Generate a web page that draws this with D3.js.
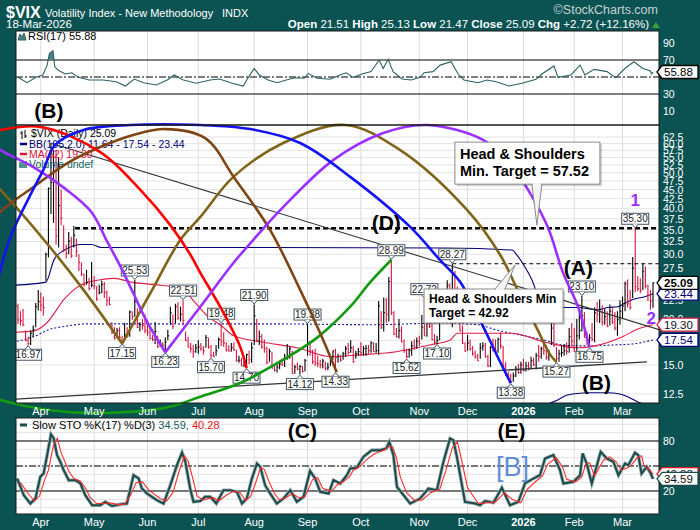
<!DOCTYPE html>
<html>
<head>
<meta charset="utf-8">
<script src="https://cdn.jsdelivr.net/npm/d3@7"></script>
<style>
  body { margin: 0; background: #0b5353; }
  svg text { font-family: "Liberation Sans", Arial, sans-serif; }
</style>
</head>
<body>
<div id="chart"></div>
<script>
// daily bars 18-Mar-2025 .. 18-Mar-2026 : [high, low, close]
const vixBars = [
  // Mar 2025
  [22.5,20.5,21.7],[22.0,19.4,19.9],[21.0,19.2,19.8],[21.3,19.1,19.3],[18.6,17.4,17.5],[17.9,16.97,17.15],[18.6,17.0,18.3],[19.2,17.9,18.7],[22.1,19.0,21.6],[24.0,21.1,22.3],
  // Apr
  [23.6,21.0,21.8],[23.0,20.4,21.5],[30.3,25.4,30.0],[45.6,29.4,45.3],[60.1,38.6,47.0],[57.5,36.5,52.3],[57.5,31.9,33.6],[54.9,31.3,40.7],[45.0,36.0,37.6],[36.0,30.4,30.9],[31.9,29.2,30.1],
  [34.5,30.0,32.6],[33.5,29.3,29.7],[35.8,31.3,33.8],[33.1,29.5,30.6],[30.0,27.0,28.5],[28.5,26.2,26.5],[26.6,24.5,24.8],[27.2,24.8,25.2],[25.9,23.9,24.2],[28.6,24.4,24.7],
  // May
  [26.2,24.1,24.6],[24.6,22.4,22.7],[24.8,23.3,23.6],[25.4,23.5,24.8],[25.2,22.8,23.6],[23.9,21.7,22.5],[23.0,21.8,21.9],[19.6,18.2,18.4],[19.0,17.6,17.7],[18.9,17.8,18.6],[19.0,17.4,17.8],
  [18.0,17.15,17.2],[19.5,17.5,18.1],[19.0,17.8,18.0],[21.1,17.9,20.9],[21.0,19.9,20.3],[25.53,20.3,22.3],[21.4,18.9,19.0],[19.6,18.5,19.3],[20.0,18.7,19.2],[20.6,18.3,18.6],
  // Jun
  [19.9,18.0,18.4],[19.0,17.6,17.7],[18.1,17.4,17.6],[19.6,17.1,18.5],[18.0,16.7,16.8],[17.6,16.8,17.2],[17.3,16.6,16.95],[17.8,16.23,17.3],[18.7,17.5,18.0],[21.6,19.3,20.8],
  [20.6,18.8,19.1],[22.0,19.5,21.6],[22.2,19.9,20.1],[21.6,19.7,20.6],[22.51,19.2,19.8],[18.5,17.4,17.5],[17.9,16.7,16.8],[17.2,16.2,16.6],[17.0,15.7,16.3],[17.1,16.2,16.7],
  // Jul
  [17.5,16.1,16.8],[17.2,16.4,16.6],[16.9,16.0,16.4],[18.1,16.7,17.8],[17.8,16.6,16.8],[17.0,15.70,15.9],[16.3,15.8,15.8],[17.0,15.9,16.4],[17.8,16.6,17.6],[19.48,16.9,17.4],[18.4,16.8,17.2],
  [17.3,16.3,16.5],[17.0,16.3,16.4],[17.2,16.3,16.7],[17.3,16.4,16.5],[16.5,15.3,15.4],[15.9,15.2,15.45],[15.7,14.9,14.9],[15.4,14.8,15.0],[16.1,14.70,16.0],[16.4,15.1,15.5],[17.3,15.2,16.7],
  // Aug
  [21.90,17.0,20.4],[20.0,17.3,17.5],[18.6,17.0,17.9],[18.2,16.6,16.8],[17.6,16.2,16.6],[16.8,15.1,15.2],[16.6,15.3,16.3],[16.3,14.7,14.7],[15.0,14.4,14.5],[15.3,14.3,14.8],[15.4,14.6,15.1],
  [15.6,14.9,15.0],[16.1,14.8,15.6],[17.1,15.5,15.7],[16.8,15.6,16.6],[16.4,14.2,14.2],[15.0,14.2,14.8],[15.2,14.5,14.6],[15.0,14.12,14.85],[14.9,14.3,14.4],[15.6,14.4,15.4],
  // Sep
  [19.38,15.9,17.2],[17.4,15.9,16.4],[16.5,15.1,15.3],[16.6,14.9,15.2],[15.9,14.8,15.1],[15.5,14.7,15.0],[15.6,14.7,15.35],[15.3,14.5,14.7],[15.2,14.5,14.8],[15.8,14.9,15.7],[16.4,15.5,16.4],
  [16.6,14.33,15.7],[16.1,15.2,15.8],[16.0,15.3,15.45],[16.3,15.5,16.1],[16.9,15.8,16.6],[17.2,16.0,16.2],[17.5,16.2,16.7],[16.9,15.2,15.3],[16.4,15.6,16.1],[16.7,15.9,16.3],
  // Oct
  [17.3,15.9,16.2],[16.9,15.9,16.6],[17.0,15.9,16.65],[17.0,16.1,16.4],[17.4,16.2,17.2],[17.3,16.3,16.3],[17.2,16.2,16.4],[22.4,16.0,21.7],[21.0,18.8,19.0],[22.9,18.5,20.8],[22.8,19.5,20.6],[26.0,19.7,25.3],
  [28.99,20.5,20.8],[21.0,18.1,18.2],[18.9,17.8,17.9],[20.0,17.7,18.6],[19.1,17.3,17.3],[17.6,16.2,16.4],[16.6,15.62,15.8],[16.6,15.7,16.4],[17.4,15.9,16.9],[17.6,16.5,16.8],[17.8,16.6,17.4],
  // Nov
  [18.0,16.9,17.2],[20.5,17.6,19.0],[22.72,18.0,18.0],[20.3,17.9,19.5],[22.1,18.9,19.1],[19.5,17.5,17.6],[18.2,17.1,17.3],[18.0,17.10,17.5],[21.3,17.5,20.0],[23.0,19.5,19.8],
  [23.8,20.0,22.4],[25.5,21.5,24.7],[25.0,22.4,23.7],[28.27,19.0,26.4],[27.0,23.0,23.4],[24.5,20.3,20.5],[21.0,18.5,18.6],[19.2,17.1,17.2],[17.3,16.3,16.35],
  // Dec
  [18.1,16.4,17.2],[17.6,16.4,16.6],[16.9,15.9,16.1],[16.4,15.6,15.8],[16.1,15.4,15.4],[17.2,15.6,16.7],[17.3,16.4,16.9],[17.2,15.7,15.8],[16.0,14.8,14.9],[16.9,14.8,16.7],[17.7,16.3,16.5],
  [17.6,16.3,16.4],[17.8,16.2,17.6],[18.4,16.6,16.9],[16.9,14.9,14.9],[15.3,14.0,14.1],[14.4,13.9,14.0],[14.2,13.38,13.5],[14.3,13.5,14.0],[14.9,13.9,14.6],[15.1,14.2,14.3],[15.3,14.2,15.0],
  // Jan 2026
  [15.6,14.4,14.5],[15.3,14.4,14.9],[15.3,14.5,14.7],[15.8,14.6,15.4],[15.7,14.9,15.0],[16.2,14.6,15.9],[17.0,15.3,15.8],[16.8,15.6,16.6],[17.5,16.0,16.4],[17.0,15.5,15.7],
  [16.5,15.4,15.9],[20.9,17.0,18.9],[20.9,16.8,16.9],[16.8,15.27,15.6],[16.5,15.3,16.1],[17.0,15.8,16.2],[17.1,15.9,16.4],[17.3,16.0,16.3],[18.9,16.2,17.9],[19.5,16.9,17.4],
  // Feb
  [18.9,16.3,16.3],[20.0,16.4,18.0],[20.9,17.6,18.6],[23.10,18.5,20.4],[20.9,17.8,17.8],[18.5,17.0,17.4],[18.2,16.75,17.8],[19.5,17.4,17.6],[21.5,17.3,20.8],[22.3,19.6,20.6],
  [22.6,19.5,21.2],[21.8,19.2,19.6],[21.3,19.3,20.3],[21.0,19.0,19.1],[21.9,19.2,21.0],[21.4,19.4,19.6],[20.9,18.6,18.9],[21.0,18.0,19.9],[22.5,19.3,21.0],
  // Mar 2026
  [23.0,20.0,21.7],[25.3,21.0,24.9],[25.6,21.5,22.0],[24.0,21.2,21.5],[29.5,22.8,27.5],[35.30,23.7,24.5],[26.2,23.8,24.2],[25.8,23.5,23.9],[28.3,24.0,27.0],[27.8,24.2,24.6],
  [24.8,22.4,23.2],[24.0,21.2,22.37],[25.13,21.47,25.09]
];

// first bar of each month (bar index)
const monthTicks = [
  {i:10,l:'Apr'},{i:31,l:'May'},{i:52,l:'Jun'},{i:72,l:'Jul'},{i:94,l:'Aug'},{i:115,l:'Sep'},
  {i:136,l:'Oct'},{i:159,l:'Nov'},{i:178,l:'Dec'},{i:200,l:'2026',b:true},{i:220,l:'Feb'},{i:239,l:'Mar'}
];
const mainTicks = [12.5,15,17.5,20,22.5,25,27.5,30,32.5,35,37.5,40,42.5,45,47.5,50,52.5,55,57.5,60,62.5];
const rsiTicks = [10,30,50,70,90];
const stoTicks = [20,50,80];

// overlays: [bar index, value]
const bbUpper = [[-1,24.7],[12,25.2],[15.3,29.1],[19.3,30.8],[26,31.9],[30,31.9],[33.8,31.3],[100,31.3],[169,31.2],[195.5,30.8],
  [197.5,29.8],[200.6,27.7],[203.4,25.5],[205.7,23.2],[208.5,22.3],[212.4,21.7],[216.4,21.5],[221.5,21.5],[229.3,21.2],
  [233.3,21.5],[237.2,21.6],[240,22.1],[243.9,22.7],[247.8,23.0],[251,23.44]];
const bbMiddle = [[-1,17.3],[8,18.0],[13,18.7],[19.5,19.1],[28,19.4],[60,19.4],[100,19.4],[140,19.3],[169,19.5],[182,19.3],
  [189,18.7],[202,17.9],[208.5,17.5],[215,17.0],[221.5,16.9],[228,16.9],[235,17.0],[242.7,17.1],[251,17.54]];
const bbLower = [[209,11.7],[213,12.0],[217,12.4],[221,12.55],[226,12.6],[233,12.6],[238,12.5],[242,12.2],[245,11.9],[248,11.7],[251,11.64]];
const ma52 = [[-1,18.4],[7.5,18.6],[12.6,19.6],[19.3,22.7],[26,24.8],[33.8,25.6],[39,25.8],[45.6,25.2],[54.7,24.8],[65.3,24.3],
  [70.4,22.3],[75.5,20.4],[81,19.2],[86,18.0],[97.6,17.3],[111,16.7],[124,15.8],[137,16.0],[150,16.3],[163,17.0],[171,17.5],
  [174,18.3],[195.5,18.3],[208.5,17.3],[221.5,16.7],[228,16.9],[239,17.9],[245,18.8],[251,19.30]];

const rsi17 = [[1,49.6],[4.6,43.3],[8.1,49.6],[10.8,52.4],[12.5,64],[13.4,78],[14.8,81],[15.5,62],[16.9,58],[19.6,53.5],[22.2,55],
  [24.8,49.6],[29.1,46.5],[34.6,46.5],[39.7,44.5],[43.3,39.4],[46.8,47.6],[50.4,43.3],[55.5,40.6],[59.8,46.5],[62.5,52.4],
  [66.1,46.5],[71.2,42.6],[76.7,46.5],[80.3,47.6],[85.4,42.6],[89.7,39.4],[91.7,49.6],[94,60],[96,52.4],[99.5,46.5],[103,43.3],
  [106.6,46.5],[110,49.2],[113.7,48.5],[115.3,54.3],[118.8,48.5],[123.9,47.3],[127.5,52],[130.2,55],[133,49.6],[136.5,53.5],
  [140,56.3],[143.2,70],[144.8,60],[146.7,70.8],[148.7,56.3],[152.2,47.6],[155.8,46.5],[159.3,49.6],[160.9,55],[164.4,56.3],
  [167.2,64],[171.5,68],[174.3,53.5],[176.6,46.5],[182.1,43.3],[185.7,46.5],[189.2,44.5],[194.3,39.4],[199.4,42.6],[205,47.3],
  [207.3,53.5],[212,63],[213.6,49.6],[218.7,52.4],[222.3,64],[224.2,52.4],[227.8,59],[232.9,56.3],[236.3,49.2],[239.9,60],
  [243.5,68],[247,60],[249.8,57.4],[250.5,53.5],[251,55.88]];

const stoK = [[0.7,35],[3.3,15],[5.9,5],[7.9,11],[9.8,37],[11.1,41],[12.5,63],[14,88],[15.1,83],[16.4,63],[17.7,55],[19,45],
  [21,33],[23.6,33],[25.6,29],[27.5,15],[30.2,3],[33.4,3],[35.4,7],[38,2],[41.3,4],[43.9,5],[46.5,39],[48.5,35],[49.8,23],
  [51.8,17],[55.7,9],[58.3,5],[61,27],[63.6,51],[65.6,66],[66.9,55],[68.8,23],[70.1,7],[72.8,8],[74.7,13],[76.7,13],[79.1,5],
  [81.9,21],[84.6,21],[87.2,19],[89.2,5],[91.1,11],[93.1,35],[95.1,53],[96.4,49],[98.3,27],[100.3,17],[102.9,5],[105.5,11],
  [108.2,21],[110.8,7],[113.4,13],[116,44],[118,35],[120,19],[123.3,17],[125.2,33],[127.9,29],[130.5,39],[131.8,47],[134.4,48],
  [137,61],[140.3,69],[143.6,69],[146,71],[147.2,79],[148.8,63],[150.2,25],[152.8,15],[155.4,5],[159.3,11],[162.6,23],[165.9,21],
  [168.5,55],[171.1,83],[172.4,81],[173.8,61],[177,7],[181,5],[182.9,3],[184.9,8],[188.2,6],[191.5,24],[194.7,3],[198,7],
  [200.6,29],[203.9,35],[206.5,39],[208.5,59],[211.8,63],[214.4,45],[215.7,29],[219.6,31],[222.3,39],[223.3,65],[224.9,53],
  [226.9,29],[230.4,67],[232.8,59],[235.4,55],[237.4,39],[240,53],[241.3,51],[243.9,66],[245.2,63],[246.5,41],[248.5,49],
  [249.8,43],[251,34.59]];
const stoD = [[2,30],[5,17],[7.5,8],[9.5,14],[11.5,33],[13,45],[15,75],[16.5,83],[18,66],[19.5,55],[21,44],[23,35],[25.5,32],
  [27.5,24],[29.5,12],[32,5],[35,5],[37,6],[40,4],[43,4],[45.5,16],[47.5,30],[50,31],[52.5,21],[57,11],[59.5,8],[62,18],
  [64.5,44],[66.5,62],[68,56],[70,33],[71.5,14],[74,9],[76,11],[78,12],[80,8],[83,15],[86,20],[88.5,18],[90.5,9],[92.5,13],
  [94.5,29],[96.5,48],[98,46],[100,30],[102,17],[104,9],[106.5,12],[109,17],[111.5,12],[114,13],[117,34],[119,36],[121,23],
  [124.5,20],[126.5,27],[129,31],[131.5,37],[133,45],[135.5,49],[138,57],[141.5,65],[145,69],[147,73],[148.5,73],[150,60],
  [151.5,37],[154,18],[157,9],[160,9],[163.5,18],[167,22],[169.5,45],[172,72],[174,79],[175,66],[178,24],[182,6],[184,5],
  [186,6],[189,7],[192.5,18],[195.5,10],[199,6],[201.5,22],[205,32],[207.5,38],[209.5,52],[213,60],[215.5,48],[217,34],
  [220.5,31],[223,37],[224.5,52],[226,54],[228,38],[231.5,57],[234,61],[236.5,55],[238.5,45],[241,48],[242.5,51],[245,61],
  [246.5,62],[247.5,50],[249.5,46],[251,40.28]];

// swing high / low tags (bar index, H or L)
const swingLabels = [{i:5,t:'L'},{i:42,t:'L'},{i:47,t:'H'},{i:59,t:'L'},{i:66,t:'H'},{i:77,t:'L'},{i:81,t:'H'},{i:91,t:'L'},
  {i:94,t:'H'},{i:112,t:'L'},{i:115,t:'H'},{i:126,t:'L'},{i:148,t:'H'},{i:154,t:'L'},{i:161,t:'H'},{i:166,t:'L'},{i:172,t:'H'},
  {i:195,t:'L'},{i:213,t:'L'},{i:223,t:'H'},{i:226,t:'L'},{i:244,t:'H'}];

// cycle arcs drawn on the chart: [bar index, price]
const arcRed = [[-13.8,63.3],[-5.9,65.3],[9.8,66.6],[33.4,56.9],[49.2,44.9],[61,36.0],[68.9,29.9],[72.8,26.7],[80.6,21.6],[88.5,16.8],[91,14.7]];
const arcBrown = [[-13.8,32.8],[-5.9,39.1],[7.1,45.7],[20.5,53.1],[33.4,58.7],[46.4,63.3],[59,65.7],[74.7,62.1],[86.2,48.4],[100.3,34.9],[112.1,24.0],[120,18.3],[126.5,14.33]];
const arcOliveA = [[-13.8,50.9],[-5.9,44.9],[12.6,32.0],[26.8,24.0],[42,17.15]];
const arcOliveB = [[42,17.15],[53.1,23.5],[64.9,32.8],[72.8,37.9],[85.8,48.7],[105.4,60.2],[129.8,67.4],[151.5,57.6],[177.8,39.6],[190.8,29.9],[198.7,23.2],[205.4,18.8],[210.5,16.0],[213,15.27]];
const arcPurpleA = [[-13.8,63.3],[-5.9,57.6],[7.1,51.8],[19.3,45.4],[29.9,39.1],[36.2,32.4],[41.7,27.5],[46.8,23.2],[51.9,19.6],[59,16.23]];
const arcPurpleB = [[59,16.23],[72.8,21.6],[85.8,28.4],[93.6,32.8],[105.4,40.3],[125.1,54.1],[144.8,64.1],[162.1,67.4],[184.1,61.4],[194.7,53.1],[202.6,44.0],[209.7,35.4],[215.6,26.7],[221.5,21.6],[226,16.75]];
const arcBlue = [[-9.8,21.2],[-5.9,27.2],[-2,33.4],[5.9,43.5],[11,50.9],[15.7,59.5],[26.8,65.3],[45.2,67.4],[72.8,67.4],[92.4,65.7],[112.1,60.2],[131.8,48.7],[155.4,35.6],[167.2,28.9],[175.1,25.2],[184.1,19.1],[190.8,15.3],[195,13.38]];
const arcGreen = [[-13.8,12.6],[-5.9,12.04],[13.8,11.3],[33.4,11.1],[59.8,11.5],[72.8,12.3],[88.5,13.4],[105.4,15.5],[118.8,17.8],[131.8,21.6],[139.7,25.2],[148,28.99]];

const trendDown = [[14,60.13],[253.5,18.7]];
const trendUp = [[-6,12.04],[248.6,15.3]];
const levelD = [[23.5,35.30],[254,35.30]];
const levelA = [[172,28.27],[254,28.27]];

// last values shown in the right-hand tags
const mainTags = [
  {v:17.54, s:'#00007a', c:'#00007a'}, {v:19.30, s:'#e0204a', c:'#111'},
  {v:23.44, s:'#00007a', c:'#00007a'}, {v:25.09, s:'#000', c:'#000', b:true}
];

// ---------------------------------------------------------------
const W = 700, H = 530;
const panelL = 16, panelR = 659;
const rsiBox = {top: 31, bottom: 125};
const mainBox = {top: 125, bottom: 403};
const stoBox = {top: 418, bottom: 514};

const svg = d3.select('#chart').append('svg').attr('width', W).attr('height', H);
svg.append('rect').attr('width', W).attr('height', H).attr('fill', '#0b5353');
const defs = svg.append('defs');

const x = d3.scaleLinear().domain([0, vixBars.length - 1]).range([15.4, 653]);
const y = d3.scaleLog().domain([11.82, 67.4]).range([mainBox.bottom, mainBox.top]);
const yRsi = d3.scaleLinear().domain([0, 100]).range([119.5, 34.5]);
const ySto = d3.scaleLinear().domain([0, 100]).range([507.7, 424.3]);

function addPanel(id, box) {
  defs.append('clipPath').attr('id', id).append('rect')
    .attr('x', panelL).attr('y', box.top).attr('width', panelR - panelL).attr('height', box.bottom - box.top);
  svg.append('rect').attr('x', panelL).attr('y', box.top)
    .attr('width', panelR - panelL).attr('height', box.bottom - box.top).attr('fill', '#fff');
  const g = svg.append('g').attr('clip-path', `url(#${id})`);
  g.selectAll('line.vgrid').data(monthTicks).join('line')
    .attr('class', 'vgrid')
    .attr('x1', d => x(d.i)).attr('x2', d => x(d.i))
    .attr('y1', box.top).attr('y2', box.bottom)
    .attr('stroke', '#dcdcdc');
  return g;
}

const gRsi = addPanel('clip-rsi', rsiBox);
const gMain = addPanel('clip-main', mainBox);
const gSto = addPanel('clip-sto', stoBox);

// ---- RSI panel
gRsi.selectAll('line.lvl').data([30, 50, 70]).join('line')
  .attr('x1', panelL).attr('x2', panelR).attr('y1', d => yRsi(d)).attr('y2', d => yRsi(d))
  .attr('stroke', '#000').attr('stroke-width', 1.2)
  .attr('stroke-dasharray', d => d === 50 ? '7,2,2,2' : null);

defs.append('clipPath').attr('id', 'clip-ob').append('rect')
  .attr('x', panelL).attr('y', rsiBox.top).attr('width', panelR - panelL).attr('height', yRsi(70) - rsiBox.top);
gRsi.append('path').datum(rsi17)
  .attr('clip-path', 'url(#clip-ob)')
  .attr('d', d3.area().x(d => x(d[0])).y0(yRsi(70)).y1(d => yRsi(d[1])))
  .attr('fill', '#4e7e7e');
gRsi.append('path').datum(rsi17)
  .attr('d', d3.line().x(d => x(d[0])).y(d => yRsi(d[1])))
  .attr('fill', 'none').attr('stroke', '#2d6262').attr('stroke-width', 1.1);

svg.append('path').attr('d', 'M18,40 L20,34 L22,37 L24,33 L26,40 Z').attr('fill', '#4e7e7e').attr('stroke', '#2d6262');
svg.append('text').attr('x', 28).attr('y', 40).attr('font-size', 11).text('RSI(17) 55.88');

// ---- Main panel
gMain.selectAll('line.hgrid').data(mainTicks).join('line')
  .attr('class', 'hgrid')
  .attr('x1', panelL).attr('x2', panelR).attr('y1', d => y(d)).attr('y2', d => y(d))
  .attr('stroke', '#e3e3e3');

const band = d3.line().x(d => x(d[0])).y(d => y(d[1])).curve(d3.curveMonotoneX);
gMain.append('path').datum(bbUpper).attr('d', band).attr('fill', 'none').attr('stroke', '#00007a').attr('stroke-width', 1.1);
gMain.append('path').datum(bbLower).attr('d', band).attr('fill', 'none').attr('stroke', '#00007a').attr('stroke-width', 1.1);
gMain.append('path').datum(bbMiddle).attr('d', band).attr('fill', 'none').attr('stroke', '#1a1aa0')
  .attr('stroke-width', 1.1).attr('stroke-dasharray', '2,2');
gMain.append('path').datum(ma52).attr('d', band).attr('fill', 'none').attr('stroke', '#e0204a').attr('stroke-width', 1.1);

const barColor = (d, i) => (i > 0 && d[2] >= vixBars[i - 1][2]) ? '#000' : '#d9133d';
gMain.selectAll('line.bar').data(vixBars).join('line')
  .attr('class', 'bar')
  .attr('x1', (d, i) => x(i)).attr('x2', (d, i) => x(i))
  .attr('y1', d => y(d[0])).attr('y2', d => y(d[1]))
  .attr('stroke', barColor).attr('stroke-width', 1.1);
gMain.selectAll('line.cls').data(vixBars).join('line')
  .attr('class', 'cls')
  .attr('x1', (d, i) => x(i)).attr('x2', (d, i) => x(i) + 1.4)
  .attr('y1', d => y(d[2])).attr('y2', d => y(d[2]))
  .attr('stroke', barColor).attr('stroke-width', 1);

const seg = d3.line().x(d => x(d[0])).y(d => y(d[1]));
gMain.append('path').datum(levelD).attr('d', seg).attr('stroke', '#000').attr('stroke-width', 2.4).attr('stroke-dasharray', '5,3');
gMain.append('path').datum(levelA).attr('d', seg).attr('stroke', '#000').attr('stroke-width', 1).attr('stroke-dasharray', '4,3');
gMain.append('path').datum(trendDown).attr('d', seg).attr('stroke', '#333').attr('stroke-width', 1.1);
gMain.append('path').datum(trendUp).attr('d', seg).attr('stroke', '#333').attr('stroke-width', 1.3);

// swing tags
const swing = gMain.selectAll('g.swing').data(swingLabels).join('g').attr('class', 'swing');
swing.each(function (d) {
  const g = d3.select(this);
  const v = d.t === 'H' ? vixBars[d.i][0] : vixBars[d.i][1];
  const cx = x(d.i), py = y(v), w = 27, h = 11;
  const by = d.t === 'H' ? py - 4 - h : py + 4;
  g.append('rect').attr('x', cx - w / 2).attr('y', by).attr('width', w).attr('height', h)
    .attr('fill', '#fff').attr('stroke', '#445566');
  const tip = d.t === 'H'
    ? `M${cx - 3},${by + h} L${cx},${by + h + 3.5} L${cx + 3},${by + h}`
    : `M${cx - 3},${by} L${cx},${by - 3.5} L${cx + 3},${by}`;
  g.append('path').attr('d', tip).attr('fill', '#fff').attr('stroke', '#445566');
  g.append('text').attr('x', cx).attr('y', by + h - 2).attr('text-anchor', 'middle')
    .attr('font-size', 10).attr('fill', '#222').text(v.toFixed(2));
});

// legend
const leg = svg.append('g');
leg.append('path').attr('d', 'M22,131 V139 M20,133 H22 M25,130 V138 M25,136 H27').attr('stroke', '#000').attr('fill', 'none');
leg.append('text').attr('x', 31).attr('y', 137).attr('font-size', 10.5).attr('fill', '#000').text('$VIX (Daily) 25.09');
leg.append('line').attr('x1', 20).attr('x2', 27).attr('y1', 144).attr('y2', 144).attr('stroke', '#00007a').attr('stroke-width', 2.5);
leg.append('text').attr('x', 29).attr('y', 148).attr('font-size', 10.5).attr('fill', '#00007a').text('BB(165,2.0) 11.64 - 17.54 - 23.44');
leg.append('line').attr('x1', 20).attr('x2', 27).attr('y1', 154).attr('y2', 154).attr('stroke', '#dd1040').attr('stroke-width', 2.5);
leg.append('text').attr('x', 29).attr('y', 158).attr('font-size', 10.5).attr('fill', '#dd1040').text('MA(52) 19.30');
leg.append('path').attr('d', 'M20,168 V162 M22,168 V160 M24,168 V163 M26,168 V161').attr('stroke', '#2d7a7a').attr('stroke-width', 1.6);
leg.append('text').attr('x', 29).attr('y', 168).attr('font-size', 10.5).attr('fill', '#106060').text('Volume undef');

// arcs (not clipped, they run past the panel)
const arcLine = d3.line().x(d => x(d[0])).y(d => y(d[1])).curve(d3.curveCatmullRom.alpha(0.5));
const arcs = [
  {p: arcGreen, c: '#139a13'}, {p: arcOliveA, c: '#806418'}, {p: arcOliveB, c: '#806418'},
  {p: arcBrown, c: '#7f4613'}, {p: arcRed, c: '#ff0000'}, {p: arcPurpleA, c: '#9b30ff'},
  {p: arcPurpleB, c: '#9b30ff'}, {p: arcBlue, c: '#1414f0'}
];
svg.selectAll('path.arc').data(arcs).join('path')
  .attr('class', 'arc')
  .attr('d', d => arcLine(d.p))
  .attr('fill', 'none').attr('stroke', d => d.c).attr('stroke-width', 2.6);

// wave labels
const bigLabel = (px, py, t, size, color, weight) => svg.append('text')
  .attr('x', px).attr('y', py).attr('text-anchor', 'middle').attr('font-size', size)
  .attr('font-weight', weight || 'bold').attr('fill', color || '#000').text(t);
bigLabel(x(13.2), yRsi(1.8), '(B)', 21);
bigLabel(x(146), y(35.3) + 2, '(D)', 21);
bigLabel(x(221.6), y(26.3), '(A)', 21);
bigLabel(x(228.7), y(12.8), '(B)', 21);
bigLabel(x(244), y(35.30) - 22, '1', 17, '#9b30ff');
bigLabel(x(250.3), y(19.30) - 1, '2', 17, '#9b30ff');
bigLabel(x(113), ySto(83.6), '(C)', 21);
bigLabel(x(195.3), ySto(83.6), '(E)', 21);
bigLabel(x(195.7), ySto(38), '[B]', 27, '#5f8cd8', 'normal');

// callouts
function callout(idx, price, box, base, lines, size, gap) {
  const ax = x(idx), ay = y(price);
  const g = svg.append('g');
  const bx = ax + box[0], by = ay + box[1], bw = box[2] - box[0], bh = box[3] - box[1];
  g.append('rect').attr('x', bx + 2).attr('y', by + 2).attr('width', bw).attr('height', bh).attr('fill', 'rgba(0,0,0,0.18)');
  const edge = box[1] < 0 ? by + bh : by;
  g.append('path').attr('d', `M${ax + base[0]},${edge} L${ax},${ay} L${ax + base[1]},${edge}`)
    .attr('fill', '#f4f4f4').attr('stroke', '#8a8a8a');
  g.append('rect').attr('x', bx).attr('y', by).attr('width', bw).attr('height', bh)
    .attr('fill', '#fff').attr('stroke', '#8a8a8a');
  g.append('path').attr('d', `M${ax + base[0] + 1},${edge} L${ax + base[1] - 1},${edge}`).attr('stroke', '#fff').attr('stroke-width', 1.5);
  lines.forEach((t, k) => g.append('text').attr('x', bx + 5).attr('y', by + gap[0] + k * gap[1])
    .attr('font-size', size).attr('font-weight', 'bold').attr('fill', '#000').text(t));
}
callout(205.3, 36.0, [-82, -83, 63, -41], [-5, 5], ['Head & Shoulders', 'Min. Target = 57.52'], 14.5, [17, 17]);
callout(196.7, 28.05, [-91, 24, 48, 58], [-20, -10], ['Head & Shoulders Min', 'Target = 42.92'], 12, [14, 14]);

// ---- Stochastic panel
gSto.selectAll('line.sg').data(d3.range(0, 101, 10)).join('line')
  .attr('x1', panelL).attr('x2', panelR).attr('y1', d => ySto(d)).attr('y2', d => ySto(d))
  .attr('stroke', '#e3e3e3');
gSto.selectAll('line.lvl').data([20, 50, 80]).join('line')
  .attr('x1', panelL).attr('x2', panelR).attr('y1', d => ySto(d)).attr('y2', d => ySto(d))
  .attr('stroke', '#000').attr('stroke-width', 1.2)
  .attr('stroke-dasharray', d => d === 50 ? '7,2,2,2' : null);
const stoLine = d3.line().x(d => x(d[0])).y(d => ySto(d[1]));
gSto.append('path').datum(stoK).attr('d', stoLine).attr('fill', 'none').attr('stroke', '#9db2b2').attr('stroke-width', 3.6);
gSto.append('path').datum(stoK).attr('d', stoLine).attr('fill', 'none').attr('stroke', '#1d4b4b').attr('stroke-width', 2);
gSto.append('path').datum(stoD).attr('d', stoLine).attr('fill', 'none').attr('stroke', '#ff2a2a').attr('stroke-width', 1.1);

svg.append('line').attr('x1', 20).attr('x2', 27).attr('y1', 425).attr('y2', 425).attr('stroke', '#1d4b4b').attr('stroke-width', 3);
const stoLeg = svg.append('text').attr('x', 32).attr('y', 429).attr('font-size', 11);
stoLeg.append('tspan').attr('fill', '#000').text('Slow STO %K(17) %D(3) ');
stoLeg.append('tspan').attr('fill', '#1d5c5c').text('34.59, ');
stoLeg.append('tspan').attr('fill', '#ee1111').text('40.28');

// ---- panel borders
[rsiBox, mainBox, stoBox].forEach(b => svg.append('rect')
  .attr('x', panelL).attr('y', b.top).attr('width', panelR - panelL).attr('height', b.bottom - b.top)
  .attr('fill', 'none').attr('stroke', '#1a1a1a'));

// ---- axes labels (skip the ones fully hidden behind a value tag)
const fmt1 = d3.format('.1f');
const hidden = v => mainTags.some(t => Math.abs(y(t.v) - y(v)) < 5);
svg.selectAll('text.ym').data(mainTicks.filter(v => !hidden(v))).join('text')
  .attr('x', 663).attr('y', d => y(d) + 4).attr('font-size', 10.5).attr('fill', '#fff').text(d => fmt1(d));
svg.selectAll('text.yr').data(rsiTicks.filter(v => v !== 50)).join('text')
  .attr('x', 663).attr('y', d => yRsi(d) + 4).attr('font-size', 10.5).attr('fill', '#fff').text(d => d);
svg.selectAll('text.ys').data(stoTicks.filter(v => v !== 50)).join('text')
  .attr('x', 663).attr('y', d => ySto(d) + 4).attr('font-size', 10.5).attr('fill', '#fff').text(d => d);
[415, 526].forEach(by => svg.append('g').selectAll('text').data(monthTicks).join('text')
  .attr('x', d => x(d.i)).attr('y', by).attr('text-anchor', 'middle').attr('font-size', 11)
  .attr('font-weight', d => d.b ? 'bold' : 'normal').attr('fill', '#fff').text(d => d.l));

function tag(yy, label, stroke, color, bold) {
  const g = svg.append('g');
  g.append('path').attr('d', `M657,${yy} L662,${yy - 6.5} L698,${yy - 6.5} L698,${yy + 6.5} L662,${yy + 6.5} Z`)
    .attr('fill', '#fff').attr('stroke', stroke).attr('stroke-width', 1.3);
  g.append('text').attr('x', 664).attr('y', yy + 4).attr('font-size', 11.5)
    .attr('font-weight', bold ? 'bold' : 'normal').attr('fill', color).text(label);
}
mainTags.forEach(t => tag(y(t.v), t.v.toFixed(2), t.s, t.c, t.b));
tag(yRsi(55.88), '55.88', '#000', '#000');
tag(ySto(40.28), '40.28', '#ee1111', '#111');
tag(ySto(34.59), '34.59', '#1d4b4b', '#111');

// ---- header
svg.append('text').attr('x', 6).attr('y', 18).attr('font-size', 16).attr('font-weight', 'bold').attr('fill', '#fff').text('$VIX');
svg.append('text').attr('x', 45).attr('y', 17).attr('font-size', 11).attr('fill', '#fff').text('Volatility Index - New Methodology');
svg.append('text').attr('x', 222).attr('y', 17).attr('font-size', 11).attr('fill', '#fff').text('INDX');
svg.append('text').attr('x', 658).attr('y', 14).attr('text-anchor', 'end').attr('font-size', 12.5).attr('fill', '#c6d2d2').text('©StockCharts.com');
svg.append('text').attr('x', 6).attr('y', 28).attr('font-size', 11.5).attr('fill', '#fff').text('18-Mar-2026');
const quote = svg.append('text').attr('x', 649).attr('y', 28).attr('text-anchor', 'end').attr('font-size', 11.5).attr('fill', '#fff');
[['Open', ' 21.51  '], ['High', ' 25.13  '], ['Low', ' 21.47  '], ['Close', ' 25.09  '], ['Chg', ' +2.72 (+12.16%)']].forEach(p => {
  quote.append('tspan').attr('font-weight', 'bold').text(p[0]);
  quote.append('tspan').text(p[1]);
});
svg.append('path').attr('d', 'M652,28 L656,22 L660,28 Z').attr('fill', '#3aa03a');
</script>
</body>
</html>
